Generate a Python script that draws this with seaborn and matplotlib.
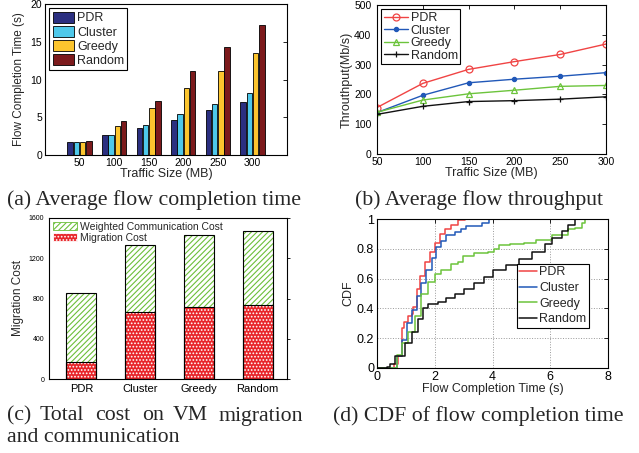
import numpy as np
import pandas as pd
import matplotlib
matplotlib.use('Agg')
import matplotlib.pyplot as plt
import seaborn as sns
from matplotlib.patches import Patch

# ---- data ----
methods = ['PDR', 'Cluster', 'Greedy', 'Random']
sizes = [50, 100, 150, 200, 250, 300]

# (a) average flow completion time (s)
fct_pdr = [1.75, 2.6, 3.6, 4.7, 5.9, 7.0]
fct_cluster = [1.7, 2.7, 4.0, 5.4, 6.8, 8.2]
fct_greedy = [1.75, 3.8, 6.2, 8.9, 11.1, 13.5]
fct_random = [1.85, 4.5, 7.2, 11.1, 14.3, 17.2]

# (b) average flow throughput (Mb/s)
thr_pdr = [156, 237, 284, 310, 334, 369]
thr_cluster = [139, 197, 239, 251, 261, 273]
thr_greedy = [140, 181, 202, 214, 227, 230]
thr_random = [133, 160, 176, 179, 184, 192]

# (c) cost
migration_cost = [172, 667, 715, 735]
weighted_comm_cost = [680, 667, 719, 739]

# (d) CDF of flow completion time
cdf_pdr_x = [0.0, 0.46, 0.6, 0.74, 0.86, 0.92, 1.09, 1.2, 1.26, 1.37, 1.49, 1.66, 1.83, 2.0, 2.17, 2.34, 2.57, 2.8, 3.05, 8.0]
cdf_pdr_y = [0.0, 0.0, 0.03, 0.08, 0.27, 0.31, 0.35, 0.36, 0.41, 0.53, 0.62, 0.71, 0.78, 0.84, 0.90, 0.93, 0.96, 0.99, 1.0, 1.0]
cdf_cluster_x = [0.0, 0.5, 0.7, 0.86, 1.03, 1.2, 1.37, 1.54, 1.71, 1.89, 2.06, 2.23, 2.4, 2.69, 2.9, 3.09, 3.43, 3.65, 3.89, 8.0]
cdf_cluster_y = [0.0, 0.0, 0.08, 0.19, 0.30, 0.39, 0.48, 0.57, 0.66, 0.74, 0.81, 0.85, 0.89, 0.91, 0.93, 0.95, 0.95, 0.97, 1.0, 1.0]
cdf_greedy_x = [0.0, 0.5, 0.7, 0.86, 1.09, 1.31, 1.54, 1.77, 2.0, 2.23, 2.57, 2.8, 2.97, 3.37, 3.83, 4.06, 4.23, 4.6, 5.1, 5.49, 6.06, 6.63, 6.86, 7.09, 7.2, 7.4]
cdf_greedy_y = [0.0, 0.0, 0.09, 0.17, 0.24, 0.35, 0.50, 0.58, 0.63, 0.66, 0.70, 0.71, 0.75, 0.77, 0.78, 0.80, 0.825, 0.83, 0.84, 0.86, 0.89, 0.93, 0.94, 0.975, 1.0, 1.0]
cdf_random_x = [0.0, 0.34, 0.45, 0.63, 0.97, 1.2, 1.43, 1.6, 1.77, 2.11, 2.4, 2.69, 3.03, 3.37, 3.71, 4.0, 4.46, 4.91, 5.37, 5.83, 6.06, 6.4, 6.63, 6.86, 7.0]
cdf_random_y = [0.0, 0.01, 0.03, 0.08, 0.17, 0.24, 0.33, 0.40, 0.43, 0.44, 0.47, 0.50, 0.53, 0.57, 0.61, 0.66, 0.69, 0.73, 0.78, 0.83, 0.87, 0.92, 0.96, 1.0, 1.0]

bar_colors = ['#2b2f80', '#4ec8ea', '#fcc52e', '#7c1a1c']
line_colors = ['#f04444', '#2158b8', '#6cc43c', '#111111']
line_markers = ['o', '.', '^', '+']

sns.set_style('white')
plt.rcParams['font.family'] = ['Liberation Sans', 'DejaVu Sans']
plt.rcParams['hatch.linewidth'] = 0.8

W, H = 639, 453
fig = plt.figure(figsize=(W / 100, H / 100), dpi=100)


def rect(l, r, t, b):
    return [l / W, (H - b) / H, (r - l) / W, (b - t) / H]


def matlab_axes(ax, size=7.5):
    for s in ax.spines.values():
        s.set_color('black')
        s.set_linewidth(0.8)
    ax.tick_params(direction='in', length=3, width=0.6, labelsize=size, pad=2,
                   right=True, top=True, colors='black')


# ---- (a) flow completion time bars ----
ax = fig.add_axes(rect(45, 287, 4, 155))
fct = [fct_pdr, fct_cluster, fct_greedy, fct_random]
df_a = pd.DataFrame({
    'size': [str(s) for _ in methods for s in sizes],
    'method': [m for m in methods for _ in sizes],
    'time': [v for vals in fct for v in vals],
})
sns.barplot(data=df_a, x='size', y='time', hue='method', palette=bar_colors,
            saturation=1, edgecolor='black', linewidth=0.6, width=0.72, gap=0.12, ax=ax)
ax.set_xlim(-1, 6)
ax.set_ylim(0, 20)
ax.set_yticks([0, 5, 10, 15, 20])
ax.set_xlabel('Traffic Size (MB)', fontsize=9, labelpad=0)
ax.set_ylabel('Flow Completion Time (s)', fontsize=8.5, labelpad=4)
matlab_axes(ax)
ax.tick_params(top=False)
leg = ax.legend(loc='upper left', fontsize=9, handlelength=1.7, handleheight=1.0,
                borderpad=0.25, labelspacing=0.1, handletextpad=0.25, fancybox=False,
                framealpha=1, edgecolor='black', borderaxespad=0.35)
leg.get_frame().set_linewidth(0.8)

# ---- (b) throughput lines ----
ax = fig.add_axes(rect(377, 606, 5, 154))
thr = [thr_pdr, thr_cluster, thr_greedy, thr_random]
for m, vals, c, mk in zip(methods, thr, line_colors, line_markers):
    sns.lineplot(x=sizes, y=vals, color=c, marker=mk, label=m, ax=ax,
                 linewidth=1.0, markersize=5 if mk != '.' else 6,
                 markerfacecolor='none' if mk in 'o^' else c,
                 markeredgecolor=c, markeredgewidth=0.9)
ax.set_xlim(50, 300)
ax.set_ylim(0, 500)
ax.set_xticks(sizes)
ax.set_yticks([0, 100, 200, 300, 400, 500])
ax.set_xlabel('Traffic Size (MB)', fontsize=9, labelpad=0)
ax.set_ylabel('Throuthput(Mb/s)', fontsize=9, labelpad=1)
matlab_axes(ax)
ax.tick_params(axis='y', pad=4)
leg = ax.legend(loc='upper left', fontsize=9, handlelength=1.9,
                borderpad=0.2, labelspacing=0.05, handletextpad=0.25, fancybox=False,
                framealpha=1, edgecolor='black', borderaxespad=0.35)
leg.get_frame().set_linewidth(0.8)

# ---- (c) stacked cost bars ----
ax = fig.add_axes(rect(49, 287, 218, 379))
total_cost = [m + w for m, w in zip(migration_cost, weighted_comm_cost)]
sns.barplot(x=methods, y=total_cost, color='white', width=0.51, ax=ax)
for p in ax.patches:
    p.set_hatch('//////')
    p.set_edgecolor('#6cbf3a')
    p.set_linewidth(0)
n0 = len(ax.patches)
sns.barplot(x=methods, y=migration_cost, color='#e8262a', saturation=1, width=0.51, ax=ax)
for p in ax.patches[n0:]:
    p.set_hatch('.....')
    p.set_edgecolor('white')
    p.set_linewidth(0)
sns.barplot(x=methods, y=total_cost, fill=False, edgecolor='black', linewidth=0.8,
            width=0.51, ax=ax)
sns.barplot(x=methods, y=migration_cost, fill=False, edgecolor='black', linewidth=0.8,
            width=0.51, ax=ax)
ax.set_xlim(-0.55, 3.5)
ax.set_ylim(0, 1600)
ax.set_yticks([0, 400, 800, 1200, 1600])
ax.set_ylabel('Migration Cost', fontsize=8.5, labelpad=3)
for s in ax.spines.values():
    s.set_color('black')
    s.set_linewidth(0.8)
ax.tick_params(axis='y', direction='out', length=2.5, width=0.6, labelsize=5, pad=1,
               colors='black')
ax.tick_params(axis='y', which='both', right=True, labelright=False)
ax.tick_params(axis='x', direction='out', length=2.5, width=0.6, labelsize=8, pad=1,
               colors='black')
handles = [Patch(facecolor='white', edgecolor='#6cbf3a', hatch='//////', label='Weighted Communication Cost'),
           Patch(facecolor='#e8262a', edgecolor='white', hatch='.....', label='Migration Cost')]
leg = ax.legend(handles=handles, loc='upper left', fontsize=7.5, handlelength=2.3,
                handleheight=0.9, borderpad=0.15, labelspacing=0.1, handletextpad=0.3,
                frameon=False, borderaxespad=0.2)
for h in leg.get_patches():
    h.set_linewidth(0.6)

# ---- (d) CDF ----
ax = fig.add_axes(rect(377, 608, 219, 368))
cdf = [(cdf_pdr_x, cdf_pdr_y), (cdf_cluster_x, cdf_cluster_y),
       (cdf_greedy_x, cdf_greedy_y), (cdf_random_x, cdf_random_y)]
for m, (xs, ys), c in zip(methods, cdf, line_colors):
    sns.lineplot(x=xs, y=ys, color=c, label=m, drawstyle='steps-post',
                 linewidth=1.1, estimator=None, ax=ax)
ax.set_xlim(0, 8)
ax.set_ylim(0, 1)
ax.set_xticks([0, 2, 4, 6, 8])
ax.set_yticks([0, 0.2, 0.4, 0.6, 0.8, 1])
ax.set_yticklabels(['0', '0.2', '0.4', '0.6', '0.8', '1'])
ax.grid(True, linestyle=':', color='#999999', linewidth=0.7)
ax.set_xlabel('Flow Completion Time (s)', fontsize=9, labelpad=0)
ax.set_ylabel('CDF', fontsize=9, labelpad=2)
matlab_axes(ax, size=9)
leg = ax.legend(loc='upper left', bbox_to_anchor=(0.605, 0.70), fontsize=9,
                handlelength=1.4, borderpad=0.2, labelspacing=0.3, handletextpad=0.2,
                fancybox=False, framealpha=1, edgecolor='black', borderaxespad=0)
leg.get_frame().set_linewidth(0.8)

# ---- captions ----
cap = dict(fontsize=15.7, family='Liberation Serif', va='center')
fig.text(7 / W, 1 - 200 / H, '(a) Average flow completion time', **cap)
fig.text(355 / W, 1 - 200 / H, '(b) Average flow throughput', **cap)
# justified first line of (c)
for word, x in zip(['(c)', 'Total', 'cost', 'on', 'VM', 'migration'],
                   [7, 40, 95, 142, 173, 219]):
    fig.text(x / W, 1 - 416 / H, word, **cap)
fig.text(7 / W, 1 - 437 / H, 'and communication', **cap)
fig.text(333 / W, 1 - 416 / H, '(d) CDF of flow completion time', **cap)

fig.savefig('out.png', dpi=100)
